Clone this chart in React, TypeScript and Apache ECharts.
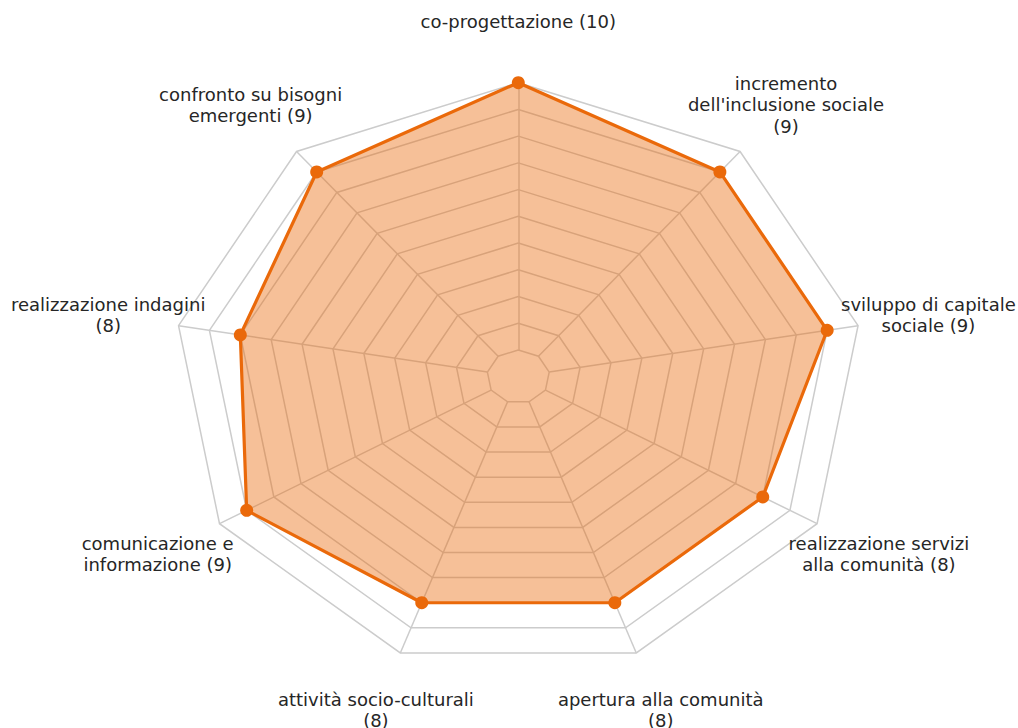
import React, { useEffect, useRef } from "react";
import * as echarts from "echarts";

// Axis labels (clockwise from the top)
const labelTexts: string[] = [
  "co-progettazione (10)",
  "incremento\ndell'inclusione sociale\n(9)",
  "sviluppo di capitale\nsociale (9)",
  "realizzazione servizi\nalla comunità (8)",
  "apertura alla comunità\n(8)",
  "attività socio-culturali\n(8)",
  "comunicazione e\ninformazione (9)",
  "realizzazione indagini\n(8)",
  "confronto su bisogni\nemergenti (9)",
];

// Series values (same order)
const values: number[] = [10, 9, 9, 8, 8, 8, 9, 8, 9];

// Radial scale
const radialMin = -1;
const radialMax = 10;
const radialTicks: number[] = [0, 1, 2, 3, 4, 5, 6, 7, 8, 9, 10];

const LINE = "#EA690A";
const FILL = "rgba(234,105,10,0.42)";
const GRID_COLOR = "#cccccc";
const TEXT = "#262626";

const N = labelTexts.length;
const EXTENT = radialMax - radialMin;
const LABEL_R = EXTENT * 1.207 + radialMin;

function toXY(i: number, v: number): [number, number] {
  const th = (2 * Math.PI * (i % N)) / N;
  const r = v - radialMin;
  return [r * Math.sin(th), r * Math.cos(th)];
}

export default function App() {
  const ref = useRef<HTMLDivElement>(null);

  useEffect(() => {
    if (!ref.current) return;
    const chart = echarts.init(ref.current, null, { renderer: "svg" });

    const rings = radialTicks.map((t) => ({
      coords: Array.from({ length: N + 1 }, (_, i) => toXY(i, t)),
    }));
    const spokes = labelTexts.map((_, i) => ({
      coords: [toXY(i, radialTicks[0]), toXY(i, radialTicks[radialTicks.length - 1])],
    }));

    chart.setOption({
      animation: false,
      backgroundColor: "#ffffff",
      grid: { left: 173.3, top: 82.7, width: 690, height: 588 },
      xAxis: {
        type: "value",
        min: -EXTENT,
        max: EXTENT,
        show: false,
        splitLine: { show: false },
      },
      yAxis: {
        type: "value",
        min: -EXTENT,
        max: EXTENT,
        show: false,
        splitLine: { show: false },
      },
      series: [
        {
          type: "lines",
          coordinateSystem: "cartesian2d",
          polyline: true,
          silent: true,
          z: 1,
          data: rings,
          lineStyle: { color: GRID_COLOR, width: 1.5, opacity: 1 },
        },
        {
          type: "lines",
          coordinateSystem: "cartesian2d",
          polyline: false,
          silent: true,
          z: 1,
          data: spokes,
          lineStyle: { color: GRID_COLOR, width: 1.5, opacity: 1 },
        },
        {
          type: "custom",
          coordinateSystem: "cartesian2d",
          z: 3,
          clip: false,
          silent: true,
          data: values.map((v, i) => toXY(i, v)),
          renderItem: (params: any, api: any) => {
            if (params.dataIndex !== 0) return null;
            const pts = values.map((v, i) => api.coord(toXY(i, v)));
            return {
              type: "polygon",
              shape: { points: pts },
              style: {
                fill: FILL,
                stroke: LINE,
                lineWidth: 3.2,
                lineJoin: "round",
              },
            };
          },
        },
        {
          type: "scatter",
          z: 4,
          silent: true,
          clip: false,
          symbol: "circle",
          symbolSize: 13,
          itemStyle: { color: LINE, opacity: 1 },
          data: values.map((v, i) => toXY(i, v)),
        },
        {
          type: "scatter",
          z: 5,
          silent: true,
          clip: false,
          symbol: "circle",
          symbolSize: 1,
          itemStyle: { color: "rgba(255,255,255,0)" },
          data: labelTexts.map((t, i) => ({ value: toXY(i, LABEL_R), name: t })),
          label: {
            show: true,
            position: "inside",
            formatter: (p: any) => p.name,
            align: "center",
            verticalAlign: "middle",
            fontSize: 18,
            lineHeight: 21.5,
            color: TEXT,
            opacity: 1,
            fontFamily: "DejaVu Sans",
          },
        },
      ],
    });

    return () => chart.dispose();
  }, []);

  return (
    <div
      ref={ref}
      style={{ position: "fixed", left: 0, top: 0, width: 1018, height: 728, background: "#fff" }}
    />
  );
}
